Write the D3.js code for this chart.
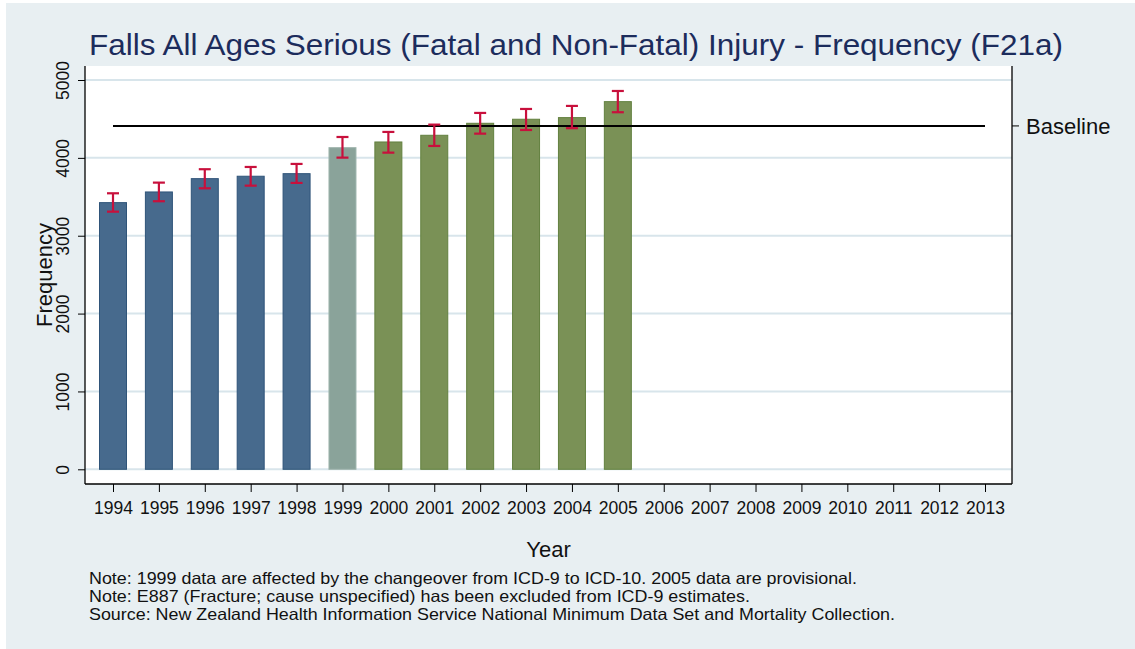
<!DOCTYPE html>
<html>
<head>
<meta charset="utf-8">
<script src="https://cdn.jsdelivr.net/npm/d3@7"></script>
<style>
  body { margin: 0; background: #fff; }
  svg text { font-family: "Liberation Sans", Arial, sans-serif; }
</style>
</head>
<body>
<div id="chart"></div>
<script>
// data
const years = ['1994','1995','1996','1997','1998','1999','2000','2001','2002','2003','2004','2005',
               '2006','2007','2008','2009','2010','2011','2012','2013'];
const barYears = ['1994','1995','1996','1997','1998','1999','2000','2001','2002','2003','2004','2005'];
const frequency = [3425, 3562, 3733, 3764, 3797, 4131, 4204, 4290, 4444, 4496, 4517, 4722];
const lowerCI   = [3309, 3443, 3609, 3643, 3678, 4003, 4067, 4153, 4311, 4358, 4381, 4586];
const upperCI   = [3545, 3682, 3854, 3883, 3922, 4268, 4333, 4427, 4577, 4628, 4667, 4859];
const period    = ['icd9','icd9','icd9','icd9','icd9','change','icd10','icd10','icd10','icd10','icd10','icd10'];
const baseline = 4410;
const yTicks = [0, 1000, 2000, 3000, 4000, 5000];
const notes = [
    'Note: 1999 data are affected by the changeover from ICD-9 to ICD-10. 2005 data are provisional.',
    'Note: E887 (Fracture; cause unspecified) has been excluded from ICD-9 estimates.',
    'Source: New Zealand Health Information Service National Minimum Data Set and Mortality Collection.'
];

const fills = { icd9: '#476a8d', change: '#8aa39a', icd10: '#7a9156' };
const strokes = { icd9: '#2f5479', change: '#9fb5ad', icd10: '#62803f' };

const W = 1135, H = 649;
const plot = { left: 85, right: 1012, top: 66, bottom: 484 };

const svg = d3.select('#chart').append('svg')
    .attr('width', W)
    .attr('height', H);

// background
svg.append('rect')
    .attr('x', 6).attr('y', 3)
    .attr('width', W - 6).attr('height', H - 3)
    .attr('fill', '#e8eff2');

svg.append('rect')
    .attr('x', plot.left).attr('y', plot.top)
    .attr('width', plot.right - plot.left)
    .attr('height', plot.bottom - plot.top)
    .attr('fill', '#fff');

// scales
const x = d3.scalePoint().domain(years).range([113, 985]);
const y = d3.scaleLinear().domain([0, 5000]).range([469.3, 80]);
const barW = 27;

// gridlines
svg.append('g')
    .selectAll('line')
    .data(yTicks)
    .enter()
    .append('line')
    .attr('x1', plot.left).attr('x2', plot.right)
    .attr('y1', d => y(d)).attr('y2', d => y(d))
    .attr('stroke', '#d8e5eb')
    .attr('stroke-width', 2);

// bars
svg.append('g')
    .selectAll('rect')
    .data(barYears)
    .enter()
    .append('rect')
    .attr('x', d => x(d) - barW / 2)
    .attr('y', (d, i) => y(frequency[i]))
    .attr('width', barW)
    .attr('height', (d, i) => y(0) - y(frequency[i]))
    .attr('fill', (d, i) => fills[period[i]])
    .attr('stroke', (d, i) => strokes[period[i]])
    .attr('stroke-width', 1);

// baseline
svg.append('line')
    .attr('x1', x(years[0])).attr('x2', x(years[years.length - 1]))
    .attr('y1', y(baseline)).attr('y2', y(baseline))
    .attr('stroke', '#000')
    .attr('stroke-width', 2);

// error bars
const err = svg.append('g')
    .attr('stroke', '#c8103c')
    .attr('stroke-width', 2.2);

barYears.forEach((yr, i) => {
    const cx = x(yr);
    err.append('line')
        .attr('x1', cx).attr('x2', cx)
        .attr('y1', y(lowerCI[i])).attr('y2', y(upperCI[i]));
    [lowerCI[i], upperCI[i]].forEach(v => {
        err.append('line')
            .attr('x1', cx - 6).attr('x2', cx + 6)
            .attr('y1', y(v)).attr('y2', y(v));
    });
});

// axis frame
const frame = svg.append('g').attr('stroke', '#000').attr('stroke-width', 1.3);
frame.append('line').attr('x1', plot.left).attr('x2', plot.left).attr('y1', plot.top).attr('y2', plot.bottom);
frame.append('line').attr('x1', plot.right).attr('x2', plot.right).attr('y1', plot.top).attr('y2', plot.bottom);
frame.append('line').attr('x1', plot.left).attr('x2', plot.right).attr('y1', plot.bottom).attr('y2', plot.bottom);

// y axis
const yAxis = svg.append('g')
    .attr('transform', `translate(${plot.left},0)`)
    .call(d3.axisLeft(y).tickValues(yTicks).tickFormat(d3.format('d')).tickSize(7).tickSizeOuter(0));
yAxis.select('.domain').remove();
yAxis.selectAll('line').attr('stroke', '#000');
yAxis.selectAll('text')
    .attr('x', 0).attr('dy', 0)
    .attr('transform', 'rotate(-90)')
    .attr('y', -16)
    .attr('text-anchor', 'middle')
    .style('font-size', '17.5px')
    .attr('fill', '#111');

// x axis
const xAxis = svg.append('g')
    .attr('transform', `translate(0,${plot.bottom})`)
    .call(d3.axisBottom(x).tickSize(8).tickSizeOuter(0));
xAxis.select('.domain').remove();
xAxis.selectAll('line').attr('stroke', '#000');
xAxis.selectAll('text')
    .attr('y', 30).attr('dy', 0)
    .style('font-size', '17.5px')
    .attr('fill', '#111');

// right axis with baseline label
svg.append('line')
    .attr('x1', plot.right).attr('x2', plot.right + 7)
    .attr('y1', y(baseline)).attr('y2', y(baseline))
    .attr('stroke', '#000');
svg.append('text')
    .attr('x', plot.right + 14)
    .attr('y', y(baseline) + 8)
    .style('font-size', '22px')
    .attr('fill', '#111')
    .text('Baseline');

// title
svg.append('text')
    .attr('x', 89).attr('y', 55)
    .attr('textLength', 974)
    .attr('lengthAdjust', 'spacingAndGlyphs')
    .style('font-size', '29px')
    .attr('fill', '#1c2c5c')
    .text('Falls All Ages Serious (Fatal and Non-Fatal) Injury - Frequency (F21a)');

// axis titles
svg.append('text')
    .attr('transform', `translate(52,${(plot.top + plot.bottom) / 2}) rotate(-90)`)
    .attr('text-anchor', 'middle')
    .style('font-size', '22px')
    .attr('fill', '#111')
    .text('Frequency');

svg.append('text')
    .attr('x', (plot.left + plot.right) / 2).attr('y', 557)
    .attr('text-anchor', 'middle')
    .style('font-size', '22px')
    .attr('fill', '#111')
    .text('Year');

// notes
const noteWidths = [768, 661, 806];
svg.append('g')
    .selectAll('text')
    .data(notes)
    .enter()
    .append('text')
    .attr('x', 89)
    .attr('y', (d, i) => 584 + i * 18)
    .attr('textLength', (d, i) => noteWidths[i])
    .attr('lengthAdjust', 'spacingAndGlyphs')
    .style('font-size', '16.5px')
    .attr('fill', '#111')
    .text(d => d);
</script>
</body>
</html>
